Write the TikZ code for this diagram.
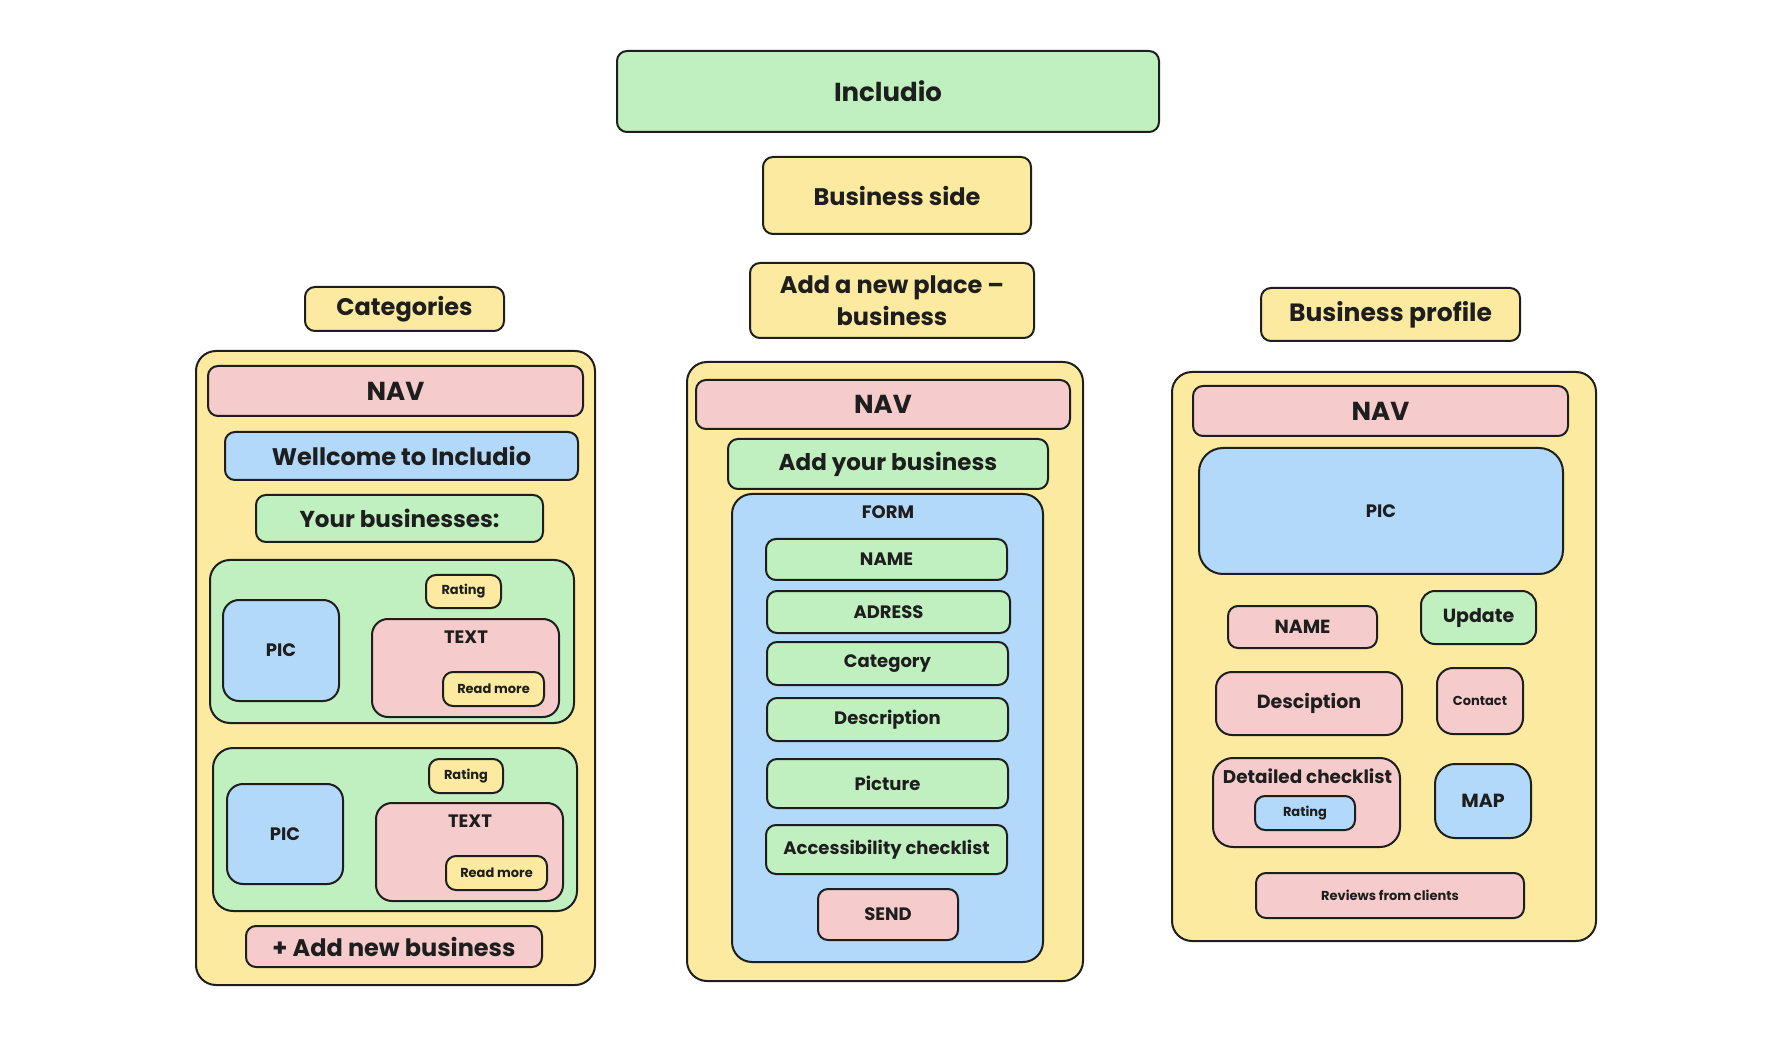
\documentclass[tikz,border=0pt]{standalone}
\usepackage{fontspec}
\setmainfont{Poppins}
\definecolor{gfill}{HTML}{C0F0C0}
\definecolor{yfill}{HTML}{FBEAA0}
\definecolor{pfill}{HTML}{F6CBCB}
\definecolor{bfill}{HTML}{B2D8FA}
\definecolor{ink}{HTML}{1E1E1E}
\begin{document}
\begin{tikzpicture}[x=0.5pt, y=-0.5pt,
    box/.style={draw=ink, line width=1pt, rounded corners=5pt, inner sep=0pt, text=ink},
    sz/.style 2 args={minimum width=#1*0.5pt, minimum height=#2*0.5pt},
    fs/.style={font=\bfseries\fontsize{#1}{#1}\selectfont},
    lbl/.style={text=ink, inner sep=0pt},
    gbox/.style={box, fill=gfill},
    ybox/.style={box, fill=yfill},
    pbox/.style={box, fill=pfill},
    bbox/.style={box, fill=bfill},
    frame/.style={box, fill=yfill, rounded corners=10pt}]
    \useasboundingbox (0,0) rectangle (1770,1052);
    % Headers
    \node[gbox, sz={542}{81}, fs=13] (incl) at (888,91.5) {Includio};
    \node[ybox, sz={268}{77}, fs=12] (bside) at (897,195.5) {Business side};
    \node[ybox, sz={284}{75}, font=\bfseries\fontsize{12}{16}\selectfont, align=center] (addplace) at (892,300.5) {Add a new place --\\business};
    \node[ybox, sz={199}{44}, fs=12] (cat) at (404.5,309) {Categories};
    \node[ybox, sz={259}{53}, fs=12.5] (bprof) at (1390.5,314.5) {Business profile};
    % Categories screen
    \node[frame, sz={399}{634}] (lframe) at (395.5,668) {};
    \node[pbox, sz={375}{50}, fs=13] (lnav) at (395.5,391) {NAV};
    \node[bbox, sz={353}{48}, fs=12] (welc) at (401.5,456) {Wellcome to Includio};
    \node[gbox, sz={287}{47}, fs=11.5] (yourb) at (399.5,518.5) {Your businesses:};
    \node[gbox, sz={364}{163}, rounded corners=10pt] (card1) at (392,641.5) {};
    \node[ybox, sz={75}{33}, fs=6.5] (rate1) at (463.5,591.5) {Rating};
    \node[bbox, sz={116}{101}, fs=9, rounded corners=8pt] (pic1) at (281,650.5) {PIC};
    \node[pbox, sz={187}{98}, rounded corners=8pt] (text1) at (465.5,668) {};
    \node[lbl, fs=9] (text1lbl) at (466,637) {TEXT};
    \node[ybox, sz={101}{34}, fs=6.5] (more1) at (493.5,689) {Read more};
    \node[gbox, sz={364}{163}, rounded corners=10pt] (card2) at (395,829.5) {};
    \node[ybox, sz={74}{34}, fs=6.5] (rate2) at (466,776) {Rating};
    \node[bbox, sz={116}{100}, fs=9, rounded corners=8pt] (pic2) at (285,834) {PIC};
    \node[pbox, sz={187}{98}, rounded corners=8pt] (text2) at (469.5,852) {};
    \node[lbl, fs=9] (text2lbl) at (470,821) {TEXT};
    \node[ybox, sz={101}{34}, fs=6.5] (more2) at (496.5,873) {Read more};
    \node[pbox, sz={296}{41}, fs=12] (addnew) at (394,946.5) {+ Add new business};
    % Add a new place screen
    \node[frame, sz={396}{619}] (mframe) at (885,671.5) {};
    \node[pbox, sz={374}{49}, fs=13] (mnav) at (883,404.5) {NAV};
    \node[gbox, sz={320}{50}, fs=11.5] (addyour) at (888,464) {Add your business};
    \node[bbox, sz={311}{468}, rounded corners=10pt] (form) at (887.5,728) {};
    \node[lbl, fs=9] (formlbl) at (888,512) {FORM};
    \node[gbox, sz={241}{41}, fs=9] (fname) at (886.5,559.5) {NAME};
    \node[gbox, sz={243}{42}, fs=9] (fadr) at (888.5,612) {ADRESS};
    \node[gbox, sz={241}{43}, fs=9] (fcat) at (887.5,663.5) {Category};
    \node[gbox, sz={241}{43}, fs=9] (fdesc) at (887.5,719.5) {Description};
    \node[gbox, sz={241}{49}, fs=9] (fpic) at (887.5,783.5) {Picture};
    \node[gbox, sz={241}{49}, fs=9] (facc) at (886.5,849.5) {Accessibility checklist};
    \node[pbox, sz={140}{51}, fs=9] (send) at (888,914.5) {SEND};
    % Business profile screen
    \node[frame, sz={424}{569}] (rframe) at (1384,656.5) {};
    \node[pbox, sz={375}{50}, fs=13] (rnav) at (1380.5,411) {NAV};
    \node[bbox, sz={364}{126}, fs=9, rounded corners=12pt] (rpic) at (1381,511) {PIC};
    \node[pbox, sz={149}{42}, fs=9.5] (rname) at (1302.5,627) {NAME};
    \node[gbox, sz={115}{53}, fs=9.5, rounded corners=7pt] (update) at (1478.5,617.5) {Update};
    \node[pbox, sz={186}{63}, fs=9.5, rounded corners=8pt] (rdesc) at (1309,703.5) {Desciption};
    \node[pbox, sz={86}{66}, fs=6.5, rounded corners=8pt] (contact) at (1480,701) {Contact};
    \node[pbox, sz={187}{89}, rounded corners=10pt] (check) at (1306.5,802.5) {};
    \node[lbl, fs=9.2] (checklbl) at (1307.5,776) {Detailed checklist};
    \node[bbox, sz={100}{34}, fs=6.5] (crate) at (1305,813) {Rating};
    \node[bbox, sz={96}{74}, fs=9.5, rounded corners=10pt] (map) at (1483,801) {MAP};
    \node[pbox, sz={268}{45}, fs=6.5] (reviews) at (1390,895.5) {Reviews from clients};
\end{tikzpicture}
\end{document}
